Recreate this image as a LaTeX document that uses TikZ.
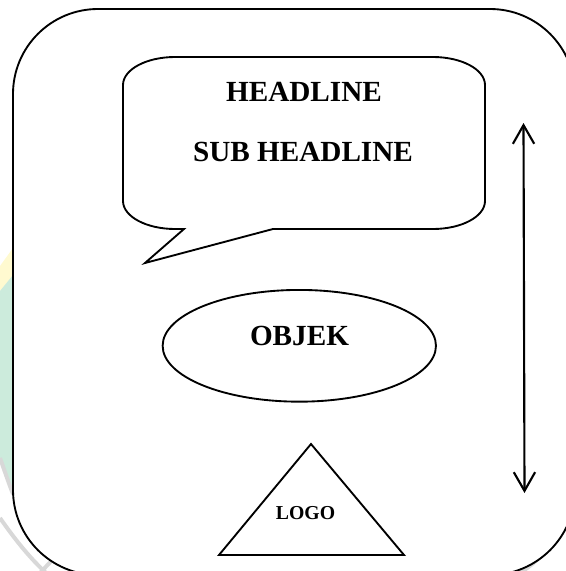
\documentclass[tikz,border=0pt]{standalone}
\usepackage{fontspec}
\setmainfont{Liberation Serif}
\usetikzlibrary{arrows.meta,shapes.geometric}
\definecolor{wmyellow}{RGB}{255,250,208}
\definecolor{wmgreen}{RGB}{204,235,220}
\definecolor{wmgray}{RGB}{216,216,216}
\tikzset{
  outline/.style={draw=black,line width=1.4pt},
  bigtext/.style={font=\bfseries\fontsize{21.9pt}{26pt}\selectfont,inner sep=0pt,anchor=base},
  smalltext/.style={font=\bfseries\fontsize{14.8pt}{18pt}\selectfont,inner sep=0pt,anchor=base},
  wmline/.style={draw=wmgray,line width=3pt},
  updown/.style={line width=1.6pt,{Straight Barb[length=14pt,width=16pt]}-{Straight Barb[length=14pt,width=16pt]}}
}
\begin{document}
\begin{tikzpicture}[x=0.75pt,y=-0.75pt]
\useasboundingbox (0,0) rectangle (566,571);
\clip (0,0) rectangle (566,571);
% faint watermark
\fill[wmyellow] (0,266) -- (13,248) -- (13,276) -- (0,291) -- cycle;
\fill[wmgreen] (0,291) -- (13,275) -- (13,495) -- (0,460) -- cycle;
\draw[wmline] (0,458) .. controls (5,472) and (9,484) .. (13,494);
\draw[wmline] (0,518) .. controls (14,538) and (28,556) .. (46,573);
\draw[wmline] (40,573) -- (56,556);
\draw[wmline] (520,573) .. controls (540,560) and (556,542) .. (568,516);
% outer frame
\draw[outline,fill=white,rounded corners=63.75pt] (13,9) rectangle (575,575);
% speech bubble
\draw[outline] (184,229) -- (145,263) -- (273,229) -- (433,229)
  .. controls (461.7,229) and (485,216.5) .. (485,201) -- (485,85)
  .. controls (485,69.5) and (461.7,57) .. (433,57) -- (175,57)
  .. controls (146.3,57) and (123,69.5) .. (123,85) -- (123,201)
  .. controls (123,216.5) and (146.3,229) .. (175,229) -- cycle;
\node[bigtext] (head) at (304,101.5) {HEADLINE};
\node[bigtext] (sub) at (303,161.5) {SUB HEADLINE};
% object ellipse
\node[ellipse,outline,minimum width=205pt,minimum height=83.8pt,inner sep=0pt] (obj) at (299.3,345.8) {};
\node[bigtext] (objtext) at (299.5,345.5) {OBJEK};
% logo triangle
\coordinate (tapex) at (311,444);
\coordinate (tleft) at (219,555);
\coordinate (tright) at (404,555);
\draw[outline] (tapex) -- (tleft) -- (tright) -- cycle;
\node[smalltext] (logo) at (305.5,519.3) {LOGO};
% vertical double arrow
\coordinate (atop) at (523.5,123);
\coordinate (abot) at (524.5,493);
\draw[updown] (atop) -- (abot);
\end{tikzpicture}
\end{document}
